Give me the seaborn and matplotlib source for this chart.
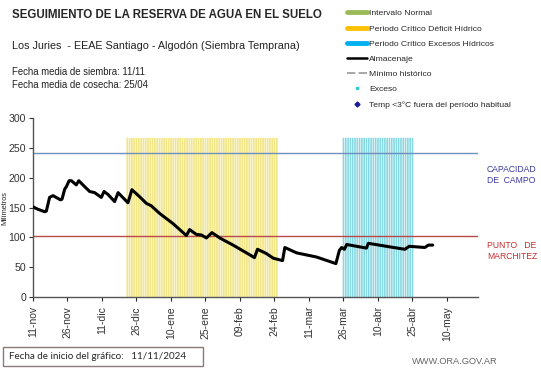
import numpy as np
import pandas as pd
import matplotlib
matplotlib.use("Agg")
import matplotlib.pyplot as plt
import seaborn as sns
from matplotlib.lines import Line2D
from matplotlib.patches import Rectangle

# Data (days counted from the chart start date, 11/11/2024)
dias = [0, 2.2, 5.1, 5.8, 7.2, 8.7, 11.9, 12.6, 13.8, 14.5, 15.7, 16.7, 18.8, 19.9,
        21.7, 24.6, 26.8, 29.7, 30.9, 32.6, 35.5, 37, 41.3, 43, 46.4, 49.3, 51.4,
        55.1, 60.9, 66.7, 68.1, 71, 73.2, 75.4, 77.8, 81.2, 87, 92.8, 96.3, 97.6,
        101.4, 104.5, 108.5, 109.5, 114.6, 123.3, 131.7, 133.2, 134.2, 135.4,
        136.4, 145, 145.8, 155.2, 161.7, 163.6, 170.4, 171.9, 173.8]
almacenaje = [151, 147, 143, 144, 167, 170, 163, 164, 181, 185, 195, 195, 188, 195,
              188, 177, 175, 167, 177, 172, 160, 175, 158, 180, 168, 157, 153,
              140, 123, 103, 113, 105, 104, 99, 108, 99, 87, 74, 66, 80,
              73, 65, 61, 83, 74, 67, 56, 78, 83, 80,
              88, 82, 90, 84, 80, 85, 83, 87, 87]

capacidad_campo = 242
punto_marchitez = 102

# critical periods (start day, end day) and drawn height
deficit = (41, 106)
excesos = (135, 165)
altura_periodo = 267

tick_dias = [0, 15, 30, 45, 60, 75, 90, 105, 120, 135, 150, 165, 180]
tick_labels = ["11-nov", "26-nov", "11-dic", "26-dic", "10-ene", "25-ene", "09-feb",
               "24-feb", "11-mar", "26-mar", "10-abr", "25-abr", "10-may"]

sns.set_style("white")
plt.rcParams["font.family"] = ["Liberation Sans", "DejaVu Sans"]

fig = plt.figure(figsize=(5.41, 3.68), dpi=100)
ax = fig.add_axes([0.061, 0.193, 0.8226, 0.486])

# striped bands (one bar per day)
d_def = np.arange(deficit[0], deficit[1] + 1)
d_exc = np.arange(excesos[0], excesos[1] + 1)
ax.bar(d_def, [altura_periodo] * len(d_def), width=0.78, color="#f2e68a",
       linewidth=0, zorder=1, snap=False)
ax.bar(d_exc, [altura_periodo] * len(d_exc), width=0.72, color="#86d8e2",
       linewidth=0, zorder=1, snap=False)

ax.axhline(capacidad_campo, color="#6f8fbf", lw=1, zorder=2)
ax.axhline(punto_marchitez, color="#b94a4a", lw=1, zorder=2)

df = pd.DataFrame({"dia": dias, "almacenaje": almacenaje})
sns.lineplot(data=df, x="dia", y="almacenaje", color="black", lw=2.2, ax=ax, zorder=3)

ax.set_xlim(0, 193.5)
ax.set_ylim(0, 300)
ax.set_yticks(range(0, 301, 50))
ax.set_xticks(tick_dias)
ax.set_xticklabels(tick_labels, rotation=90, fontsize=7.5, color="#333333")
ax.tick_params(axis="y", labelsize=7.6, colors="#333333", length=3, pad=2,
               direction="out", left=True)
ax.tick_params(axis="x", length=3, direction="out", bottom=True)
ax.set_xlabel("")
ax.set_ylabel("Milímetros", fontsize=5.3)
ax.yaxis.set_label_coords(-0.056, 0.5)
for s in ["top", "right"]:
    ax.spines[s].set_visible(False)
for s in ["left", "bottom"]:
    ax.spines[s].set_color("#555555")
    ax.spines[s].set_linewidth(1)

# header texts
fig.text(12 / 541, 1 - 15 / 368, "SEGUIMIENTO DE LA RESERVA DE AGUA EN EL SUELO",
         fontsize=8.3, fontweight="bold", va="center", ha="left")
fig.text(12 / 541, 1 - 46 / 368, "Los Juries  - EEAE Santiago - Algodón (Siembra Temprana)",
         fontsize=7.75, va="center", ha="left", color="#222222")
fig.text(12 / 541, 1 - 72 / 368, "Fecha media de siembra: 11/11",
         fontsize=6.95, va="center", ha="left", color="#222222")
fig.text(12 / 541, 1 - 85 / 368, "Fecha media de cosecha: 25/04",
         fontsize=6.95, va="center", ha="left", color="#222222")

# legend
handles = [
    Line2D([], [], color="#9bbb59", lw=3.5),
    Line2D([], [], color="#ffc000", lw=3.5),
    Line2D([], [], color="#00b0f0", lw=3.5),
    Line2D([], [], color="black", lw=1.8),
    Line2D([], [], color="#999999", lw=1.2, ls=(0, (5, 2))),
    Line2D([], [], color="#33cccc", lw=0, marker="s", ms=2),
    Line2D([], [], color="#1a1a99", lw=0, marker="D", ms=2.5),
]
labels = ["Intervalo Normal", "Periodo Crítico Déficit Hídrico",
          "Periodo Crítico Excesos Hídricos", "Almacenaje", "Mínimo histórico",
          "Exceso", "Temp <3°C fuera del período habitual"]
fig.legend(handles, labels, loc="upper left", bbox_to_anchor=(344 / 541, 1 - 6 / 368),
           fontsize=6.1, frameon=False, handlelength=2.35, handletextpad=0.2,
           labelspacing=0.86, borderaxespad=0)

# right annotations
fig.text(487 / 541, 1 - 175 / 368, "CAPACIDAD\nDE  CAMPO", fontsize=6.2,
         color="#3a3aa0", va="center", ha="left", linespacing=1.2)
fig.text(487 / 541, 1 - 251 / 368, "PUNTO   DE\nMARCHITEZ", fontsize=6.2,
         color="#c03030", va="center", ha="left", linespacing=1.2)

# footer
fig.patches.append(Rectangle((3 / 541, 1 - 366 / 368), 200 / 541, 19 / 368,
                             transform=fig.transFigure, fill=False,
                             edgecolor="#8a7a7a", lw=1))
fig.text(9 / 541, 1 - 356.5 / 368, "Fecha de inicio del gráfico:   11/11/2024",
         fontsize=7.1, va="center", ha="left", family=["Lato", "DejaVu Sans"])
fig.text(498 / 541, 1 - 361 / 368, "WWW.ORA.GOV.AR", fontsize=6.7, color="#666666",
         va="center", ha="right")

fig.savefig("out.png", dpi=100)
